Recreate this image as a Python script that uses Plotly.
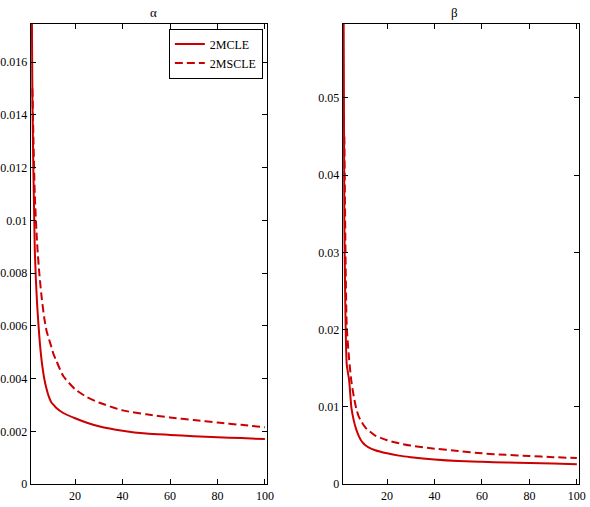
import plotly.graph_objects as go

# ---- data ----
n_solid = [1, 2, 3, 4, 5, 6, 7, 8, 9, 10, 11, 12, 15, 20, 25, 30, 40, 50, 60, 70, 80, 90, 100]
n_dash = [2, 3, 4, 5, 6, 7, 8, 9, 10, 11, 12, 15, 20, 25, 30, 40, 50, 60, 70, 80, 90, 100]

alpha_2mcle = [0.029, 0.0146, 0.0089, 0.0068, 0.0055, 0.0046, 0.0040, 0.0036, 0.0033, 0.0031,
               0.0030, 0.0029, 0.0027, 0.0025, 0.00233, 0.0022, 0.00203, 0.00192, 0.00187,
               0.00182, 0.00178, 0.00175, 0.00171]
alpha_2mscle = [0.0150, 0.0110, 0.0091, 0.0079, 0.0070, 0.0063, 0.0058, 0.0055, 0.0052, 0.0049,
                0.0047, 0.0041, 0.0036, 0.0033, 0.0031, 0.0028, 0.00265, 0.00253, 0.00243,
                0.00234, 0.00225, 0.00216]

beta_2mcle = [0.119, 0.034, 0.0155, 0.0135, 0.0098, 0.0082, 0.0071, 0.0063, 0.0057, 0.0053,
              0.0050, 0.0048, 0.0044, 0.0040, 0.0037, 0.0035, 0.0032, 0.0030, 0.0029, 0.00282,
              0.00275, 0.00268, 0.0026]
beta_2mscle = [0.045, 0.0205, 0.0162, 0.0132, 0.0113, 0.0098, 0.0088, 0.0082, 0.0077, 0.0073,
               0.0070, 0.0063, 0.0057, 0.0053, 0.0050, 0.0046, 0.0043, 0.0040, 0.0038, 0.00366,
               0.0035, 0.0034]

x_ticks = [20, 40, 60, 80, 100]
alpha_ticks = [0, 0.002, 0.004, 0.006, 0.008, 0.01, 0.012, 0.014, 0.016]
alpha_ticktext = ["0", "0.002", "0.004", "0.006", "0.008", "0.01", "0.012", "0.014", "0.016"]
beta_ticks = [0, 0.01, 0.02, 0.03, 0.04, 0.05]
beta_ticktext = ["0", "0.01", "0.02", "0.03", "0.04", "0.05"]

RED = "#CC0000"
FONT = "Liberation Serif, Times New Roman, serif"
W, H = 590, 507

fig = go.Figure()
fig.add_trace(go.Scatter(x=n_solid, y=alpha_2mcle, mode="lines", name="2MCLE",
                         line=dict(color=RED, width=2, shape="spline", smoothing=0.6),
                         xaxis="x", yaxis="y"))
fig.add_trace(go.Scatter(x=n_dash, y=alpha_2mscle, mode="lines", name="2MSCLE",
                         line=dict(color=RED, width=2, dash="8px,4px", shape="spline", smoothing=0.6),
                         xaxis="x", yaxis="y"))
fig.add_trace(go.Scatter(x=n_solid, y=beta_2mcle, mode="lines", name="2MCLE", showlegend=False,
                         line=dict(color=RED, width=2, shape="spline", smoothing=0.6),
                         xaxis="x2", yaxis="y2"))
fig.add_trace(go.Scatter(x=n_dash, y=beta_2mscle, mode="lines", name="2MSCLE", showlegend=False,
                         line=dict(color=RED, width=2, dash="8px,4px", shape="spline", smoothing=0.6),
                         xaxis="x2", yaxis="y2"))

ax_common = dict(showline=True, linecolor="black", linewidth=1, mirror="ticks", ticks="inside",
                 ticklen=5, tickcolor="black", showgrid=False, zeroline=False,
                 tickfont=dict(family=FONT, size=12, color="black"))

ybot = 1 - 491 / H
ytop = 1 - 24 / H

fig.update_layout(
    width=W, height=H, margin=dict(l=0, r=0, t=0, b=0),
    paper_bgcolor="white", plot_bgcolor="white",
    xaxis=dict(domain=[31 / W, 270 / W], range=[1.25, 100.8], tickvals=x_ticks, anchor="y", **ax_common),
    yaxis=dict(domain=[ybot, ytop], range=[0, 0.01746], tickvals=alpha_ticks, ticktext=alpha_ticktext,
               anchor="x", **ax_common),
    xaxis2=dict(domain=[346.7 / W, 585.7 / W], range=[1.25, 100.8], tickvals=x_ticks, anchor="y2", **ax_common),
    yaxis2=dict(domain=[ybot, ytop], range=[0, 0.0596], tickvals=beta_ticks, ticktext=beta_ticktext,
                anchor="x2", **ax_common),
    legend=dict(x=266 / W, xanchor="right", y=1 - 29 / H, yanchor="top",
                bgcolor="white", bordercolor="black", borderwidth=1,
                font=dict(family=FONT, size=12, color="black"),
                tracegroupgap=0, itemwidth=30),
    showlegend=True,
    annotations=[
        dict(text="α", x=150 / W, y=1 - 3 / H, xref="paper", yref="paper", yanchor="top",
             showarrow=False, font=dict(family=FONT, size=13, color="black")),
        dict(text="β", x=466 / W, y=1 - 3 / H, xref="paper", yref="paper", yanchor="top",
             showarrow=False, font=dict(family=FONT, size=13, color="black")),
    ],
)

fig.write_html("out.html")
